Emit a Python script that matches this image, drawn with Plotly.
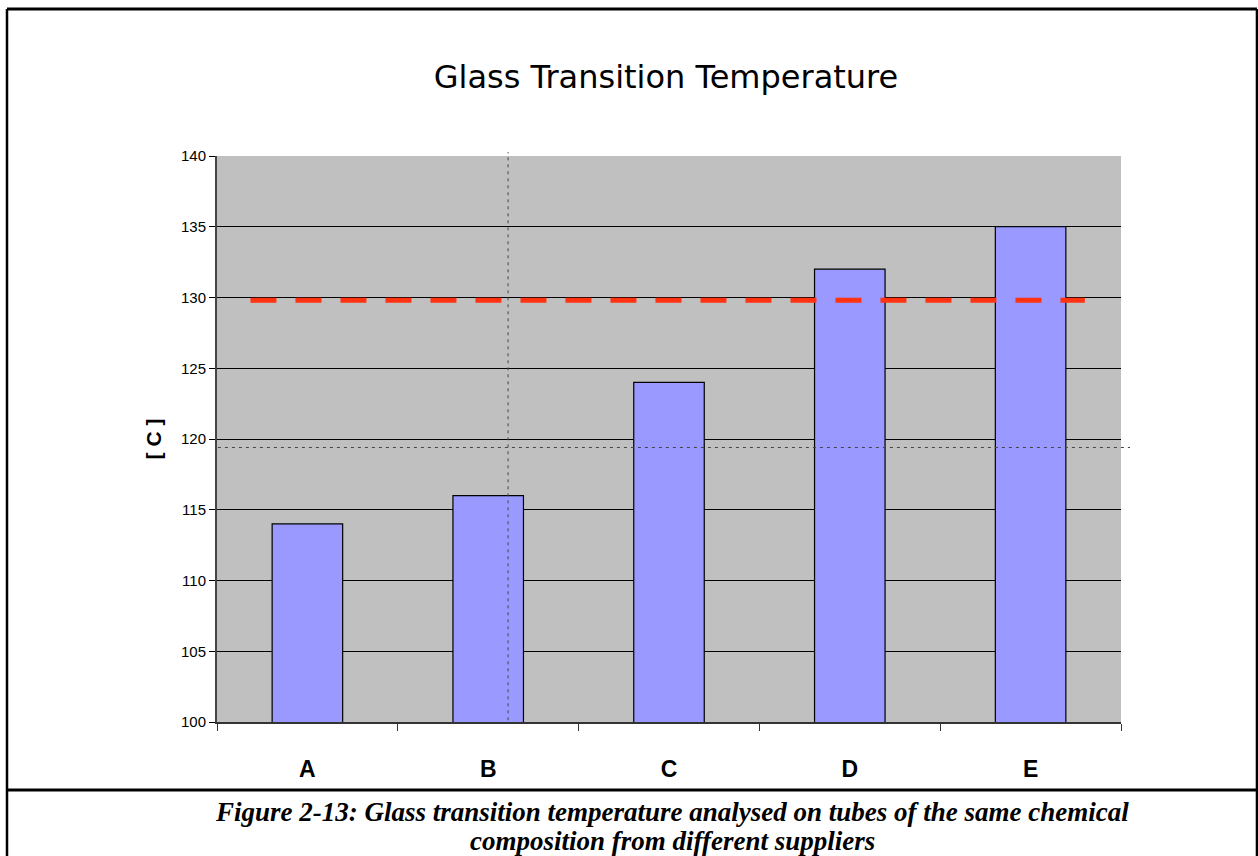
import plotly.graph_objects as go

categories = ["A", "B", "C", "D", "E"]
tg_values = [114, 116, 124, 132, 135]
limit_value = 129.8
crosshair_y = 119.4
y_ticks = [100, 105, 110, 115, 120, 125, 130, 135, 140]
caption_lines = [
    "Figure 2-13: Glass transition temperature analysed on tubes of the same chemical",
    "composition from different suppliers",
]

fig = go.Figure()
fig.add_trace(go.Bar(
    x=categories, y=tg_values,
    marker=dict(color="#9999FF", line=dict(color="black", width=1.2)),
    showlegend=False, hoverinfo="skip",
))

shapes = []
# red dashed limit line
shapes.append(dict(type="line", xref="x", yref="y", x0=-0.315, x1=4.30,
                   y0=limit_value, y1=limit_value,
                   line=dict(color="#FF3311", width=5, dash="26px,19px"), layer="above"))
# dotted crosshair lines
shapes.append(dict(type="line", xref="paper", yref="y", x0=0.001, x1=1.01,
                   y0=crosshair_y, y1=crosshair_y,
                   line=dict(color="#444444", width=1, dash="3px,4px")))
shapes.append(dict(type="line", xref="paper", yref="paper", x0=0.322, x1=0.322,
                   y0=0.003, y1=1.007,
                   line=dict(color="#444444", width=1, dash="3px,4px")))
# outer frame
L, R, T, MID, B = -0.2323, 1.1504, 1.2597, -0.1201, -0.4
shapes.append(dict(type="line", xref="paper", yref="paper", x0=L, x1=R, y0=T, y1=T,
                   line=dict(color="black", width=3)))
shapes.append(dict(type="line", xref="paper", yref="paper", x0=L, x1=R, y0=MID, y1=MID,
                   line=dict(color="black", width=3)))
shapes.append(dict(type="line", xref="paper", yref="paper", x0=L, x1=L, y0=T, y1=B,
                   line=dict(color="black", width=2.5)))
shapes.append(dict(type="line", xref="paper", yref="paper", x0=R, x1=R, y0=T, y1=B,
                   line=dict(color="black", width=2.5)))

fig.update_layout(
    width=1258, height=856,
    margin=dict(l=217, r=137, t=156, b=134),
    paper_bgcolor="white", plot_bgcolor="#C0C0C0",
    bargap=0.61,
    shapes=shapes,
    title=dict(text="Glass Transition Temperature", x=(666 - 217) / 904, xref="paper",
               y=1 - 77 / 856, yref="container", yanchor="middle",
               font=dict(family="DejaVu Sans", size=32, color="black")),
    font=dict(family="Liberation Sans, Arial", color="black"),
)

fig.update_yaxes(range=[100, 140], tickvals=y_ticks, ticktext=[str(v) for v in y_ticks],
                 showgrid=True, gridcolor="black", gridwidth=1.2,
                 showline=True, linecolor="#444444", linewidth=2,
                 ticks="outside", ticklen=6, tickcolor="black",
                 tickfont=dict(size=15, family="Liberation Sans Narrow, Liberation Sans"),
                 title=dict(text="<b>[ C ]</b>", font=dict(size=21), standoff=14),
                 zeroline=False, fixedrange=True)
fig.update_xaxes(showgrid=False, showline=True, linecolor="#333333", linewidth=1.5,
                 ticks="outside", ticklen=7, tickson="boundaries", tickcolor="#333333",
                 tickfont=dict(size=23, family="Liberation Sans"),
                 ticktext=["<b>%s</b>" % c for c in categories], tickvals=categories,
                 ticklabelstandoff=26)

for line_text, ypix in zip(caption_lines, [812, 841]):
    fig.add_annotation(
        text="<b><i>%s</i></b>" % line_text,
        xref="paper", yref="paper", x=(672 - 217) / 904, y=(722 - ypix) / 566,
        xanchor="center", yanchor="middle", showarrow=False,
        font=dict(family="Liberation Serif, Times New Roman", size=27, color="black"),
        align="center",
    )

fig.write_html("out.html")
